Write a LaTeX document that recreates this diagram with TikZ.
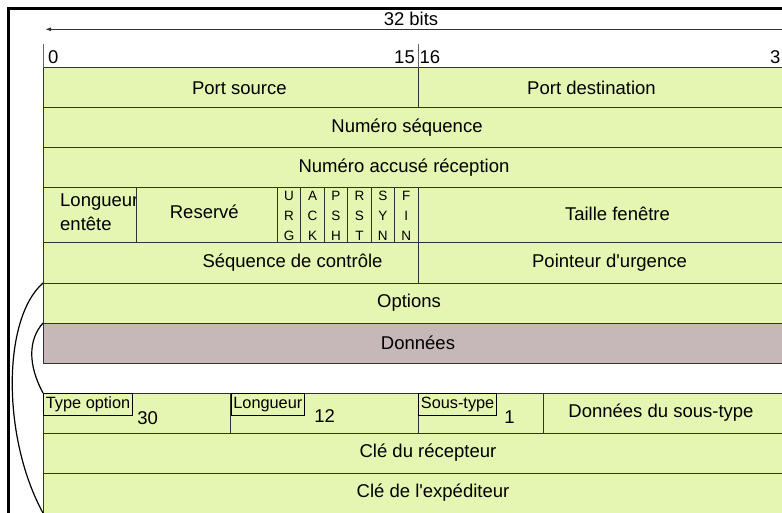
\documentclass[tikz,border=0pt]{standalone}
\usepackage{fontspec}
\setmainfont{Liberation Sans}
\usetikzlibrary{positioning,arrows.meta}

\definecolor{fieldGreen}{RGB}{229,245,178}
\definecolor{dataMauve}{RGB}{198,184,184}
\definecolor{borderGray}{RGB}{50,50,50}
\newcommand{\rowfont}{\fontsize{18.5}{23.5}\selectfont}
\newcommand{\flagfont}{\fontsize{13.5}{20}\selectfont}
\newcommand{\tagfont}{\fontsize{16.3}{18}\selectfont}

\begin{document}
\begin{tikzpicture}[x=1pt, y=-1pt]
\tikzset{
    fieldStyle/.style={rectangle, draw=borderGray, fill=fieldGreen, line width=1pt, inner sep=0pt, outer sep=0pt, minimum height=40pt, anchor=north west, font=\rowfont},
    dataStyle/.style={fieldStyle, fill=dataMauve},
    flagStyle/.style={fieldStyle, minimum width=23.4375pt, minimum height=55pt, align=center, font=\flagfont},
    tagStyle/.style={rectangle, draw=black, line width=0.8pt, inner sep=2.5pt, minimum height=22pt, anchor=north west, font=\tagfont},
    valueStyle/.style={inner sep=0pt, anchor=base west, font=\rowfont},
    headStyle/.style={inner sep=0pt, font=\rowfont},
    tickStyle/.style={draw=black!60, line width=0.8pt},
    widthArrow/.style={arrows={Latex[length=6pt, width=4pt]-Latex[length=6pt, width=4pt]}, line width=1pt, black!80},
    expandLine/.style={line width=1.2pt, black}
}
\clip (0,0) rectangle (782,513);

% frame
\draw[line width=2.5pt] (8.7,530) -- (8.7,8.7) -- (800,8.7);

% header
\node[headStyle, anchor=base] (widthLbl) at (411,26) {32 bits};
\coordinate (arrowL) at (45,29.3);
\coordinate (arrowR) at (796,29.3);
\draw[widthArrow] (arrowL) -- (arrowR);

\node[fieldStyle, minimum width=375pt] (portSrc) at (43,68) {\hspace*{17.6pt}Port source};
\node[fieldStyle, minimum width=375pt, right=0pt of portSrc] (portDst) {\hspace*{-28pt}Port destination};

\node[headStyle, anchor=base west] (bitFirst) at (48,63.3) {0};
\node[headStyle, anchor=base east] (bitMidL) at (415,63.3) {15};
\node[headStyle, anchor=base west] (bitMidR) at (419.5,63.3) {16};
\node[headStyle, anchor=base west] (bitLast) at (770,63.3) {3};
\draw[tickStyle] (portSrc.north west) -- ++(0,-24);
\draw[tickStyle] (portDst.north west) -- ++(0,-24);

\node[fieldStyle, minimum width=750pt] (seqNum) at (portSrc.south west) {\hspace*{-22pt}Numéro séquence};
\node[fieldStyle, minimum width=750pt] (ackNum) at (seqNum.south west) {\hspace*{-28pt}Numéro accusé réception};

% flags row
\node[fieldStyle, minimum width=93.75pt, minimum height=55pt] (hdrLen) at (ackNum.south west) {};
\node[headStyle, anchor=west, align=left, yshift=3.5pt] (hdrLenTxt) at ([xshift=17pt]hdrLen.west) {Longueur\\entête};
\node[fieldStyle, minimum width=140.625pt, minimum height=55pt, right=0pt of hdrLen] (reserved) {\hspace*{-5.5pt}\raisebox{7pt}{Reservé}};
\node[flagStyle, right=0pt of reserved] (urg) {U\\R\\G};
\node[flagStyle, right=0pt of urg] (ack) {A\\C\\K};
\node[flagStyle, right=0pt of ack] (psh) {P\\S\\H};
\node[flagStyle, right=0pt of psh] (rst) {R\\S\\T};
\node[flagStyle, right=0pt of rst] (syn) {S\\Y\\N};
\node[flagStyle, right=0pt of syn] (fin) {F\\I\\N};
\node[fieldStyle, minimum width=375pt, minimum height=55pt, right=0pt of fin] (window) {\hspace*{24pt}\raisebox{3pt}{Taille fenêtre}};

\node[fieldStyle, minimum width=375pt] (checksum) at (hdrLen.south west) {\hspace*{124pt}Séquence de contrôle};
\node[fieldStyle, minimum width=375pt, right=0pt of checksum] (urgPtr) {\hspace*{8pt}Pointeur d\textquotesingle urgence};

\node[fieldStyle, minimum width=750pt] (options) at (checksum.south west) {\hspace*{-18pt}Options};
\node[dataStyle, minimum width=750pt] (payload) at (options.south west) {\raisebox{-3pt}{Données}};

% option detail
\node[fieldStyle, minimum width=187.5pt] (optType) at (43,393) {};
\node[fieldStyle, minimum width=187.5pt, right=0pt of optType] (optLen) {};
\node[fieldStyle, minimum width=125.5pt, right=0pt of optLen] (optSub) {};
\node[fieldStyle, minimum width=250pt, right=0pt of optSub] (optData) {\hspace*{-15pt}Données du sous-type};

\node[tagStyle] (typeTag) at (optType.north west) {Type option};
\node[valueStyle] (typeVal) at ([xshift=4pt, yshift=-9pt]typeTag.south east) {30};
\node[tagStyle] (lenTag) at (optLen.north west) {Longueur};
\node[valueStyle] (lenVal) at ([xshift=9pt, yshift=-7pt]lenTag.south east) {12};
\node[tagStyle] (subTag) at (optSub.north west) {Sous-type};
\node[valueStyle] (subVal) at ([xshift=7pt, yshift=-7.7pt]subTag.south east) {1};

\node[fieldStyle, minimum width=750pt] (rcvKey) at (optType.south west) {\hspace*{20pt}Clé du récepteur};
\node[fieldStyle, minimum width=750pt] (sndKey) at (rcvKey.south west) {\hspace*{30pt}Clé de l\textquotesingle expéditeur};

% expansion brackets
\draw[expandLine] (options.north west) .. controls (2,319) and (2,438) .. (sndKey.south west);
\draw[expandLine] (payload.north west) .. controls (28,340) and (28,365) .. (optType.north west);

\end{tikzpicture}
\end{document}
